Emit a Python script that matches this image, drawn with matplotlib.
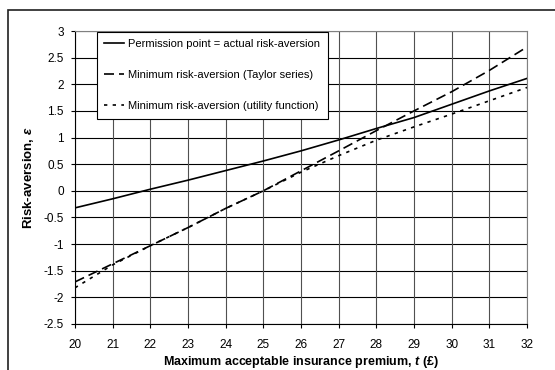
import matplotlib
matplotlib.use("Agg")
import matplotlib.pyplot as plt
from matplotlib.patches import Rectangle

plt.rcParams["font.family"] = ["Liberation Sans", "DejaVu Sans"]
plt.rcParams["mathtext.fontset"] = "custom"
plt.rcParams["mathtext.it"] = "Liberation Sans:italic:bold"
plt.rcParams["mathtext.rm"] = "Liberation Sans:bold"

# values
premium = [20, 21, 22, 23, 24, 25, 26, 27, 28, 29, 30, 31, 32]
permission_point = [-0.32, -0.15, 0.03, 0.2, 0.38, 0.56, 0.75, 0.955, 1.17, 1.375, 1.625, 1.875, 2.11]
min_taylor = [-1.71, -1.37, -1.03, -0.69, -0.33, 0.0, 0.375, 0.75, 1.13, 1.5, 1.86, 2.26, 2.7]
min_utility = [-1.82, -1.39, -1.03, -0.69, -0.33, 0.0, 0.35, 0.66, 0.95, 1.2, 1.44, 1.69, 1.94]

labels = ["Permission point = actual risk-aversion",
          "Minimum risk-aversion (Taylor series)",
          "Minimum risk-aversion (utility function)"]
x_ticks = list(range(20, 33))
y_ticks = [-2.5, -2, -1.5, -1, -0.5, 0, 0.5, 1, 1.5, 2, 2.5, 3]
y_tick_labels = ["-2.5", "-2", "-1.5", "-1", "-0.5", "0", "0.5", "1", "1.5", "2", "2.5", "3"]

fig = plt.figure(figsize=(5.55, 3.7), dpi=100)
ax = fig.add_axes([75 / 555, 1 - 324 / 370, 452 / 555, 293 / 370])

# grid
for yv in y_ticks:
    ax.axhline(yv, color="black", lw=0.8, zorder=1)
for xv in x_ticks:
    ax.axvline(xv, color="#505050", lw=0.8, zorder=1)

ax.plot(premium, permission_point, color="black", lw=1.2, label=labels[0], zorder=3)
ax.plot(premium, min_taylor, color="black", lw=1.2, dashes=(6, 3), label=labels[1], zorder=3)
ax.plot(premium, min_utility, color="black", lw=1.2, dashes=(2, 3.2), label=labels[2], zorder=3)

ax.set_xlim(20, 32)
ax.set_ylim(-2.5, 3)
ax.set_xticks(x_ticks)
ax.set_yticks(y_ticks)
ax.set_yticklabels(y_tick_labels)
ax.tick_params(axis="both", labelsize=8.5, direction="out", length=3, width=0.8, color="black")
ax.tick_params(axis="x", pad=8)
ax.tick_params(axis="y", pad=5)
for s in ["top", "right"]:
    ax.spines[s].set_color("#808080")
for s in ["left", "bottom"]:
    ax.spines[s].set_color("black")
for s in ax.spines.values():
    s.set_linewidth(0.8)

ax.set_xlabel("Maximum acceptable insurance premium, $t$ (£)", fontsize=9, fontweight="bold")
ax.xaxis.set_label_coords(0.5, -0.104)
ax.set_ylabel("Risk-aversion, $\\varepsilon$", fontsize=9.5, fontweight="bold")
ax.yaxis.set_label_coords(-0.087, 0.5)

leg = ax.legend(loc="upper left", bbox_to_anchor=(0.048, 0.997), fontsize=8,
                frameon=True, fancybox=False, shadow=False, borderaxespad=0,
                labelspacing=1.9, handlelength=1.8, handletextpad=0.4, borderpad=0.65)
leg.get_frame().set_edgecolor("black")
leg.get_frame().set_linewidth(0.8)
leg.get_frame().set_alpha(1)
leg.set_zorder(5)

# outer chart frame (top and left edges visible)
fig.add_artist(Rectangle((8 / 555, -0.5), 2, 1.5 - 10 / 370, transform=fig.transFigure,
                         fill=False, edgecolor="#202020", lw=1.2))

fig.savefig("out.png", dpi=100)
